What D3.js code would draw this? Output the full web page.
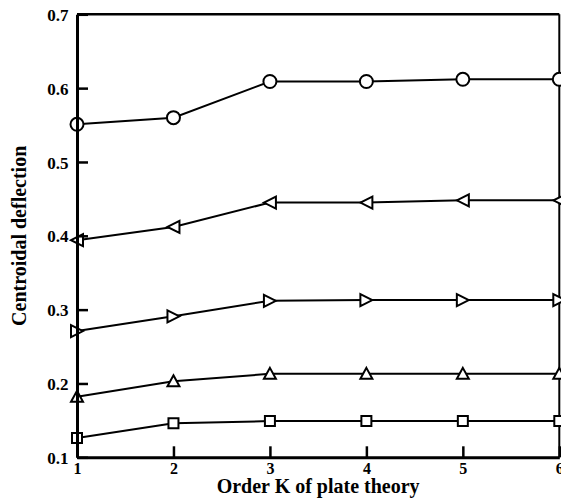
<!DOCTYPE html>
<html>
<head>
<meta charset="utf-8">
<script src="https://cdn.jsdelivr.net/npm/d3@7"></script>
<style>
  body { margin: 0; background: #fff; }
  text { font-family: 'Liberation Serif', 'Times New Roman', serif; font-weight: bold; }
</style>
</head>
<body>
<div id="chart"></div>
<script>
const orders = [1, 2, 3, 4, 5, 6]
const yTicks = [0.1, 0.2, 0.3, 0.4, 0.5, 0.6, 0.7]

const circleVals = [0.551, 0.56, 0.609, 0.609, 0.612, 0.612]
const leftTriVals = [0.394, 0.412, 0.445, 0.445, 0.448, 0.448]
const rightTriVals = [0.271, 0.291, 0.312, 0.313, 0.313, 0.313]
const upTriVals = [0.182, 0.203, 0.213, 0.213, 0.213, 0.213]
const squareVals = [0.126, 0.146, 0.149, 0.149, 0.149, 0.149]

const margin = { top: 14.3, left: 77, right: 1.7, bottom: 40.7 }
const width = 561 - margin.left - margin.right
const height = 498 - margin.top - margin.bottom

const svg = d3
  .select('#chart')
  .append('svg')
  .attr('width', 561)
  .attr('height', 498)
  .append('g')
  .attr('transform', 'translate(' + margin.left + ',' + margin.top + ')')

const xScale = d3.scaleLinear().domain([1, 6]).range([0, width])
const yScale = d3.scaleLinear().domain([0.1, 0.7]).range([height, 0])

// frame on top and right
svg.append('line')
  .attr('x1', 0).attr('x2', width)
  .attr('y1', 0).attr('y2', 0)
  .attr('stroke', '#000').attr('stroke-width', 2.5)
svg.append('line')
  .attr('x1', width).attr('x2', width)
  .attr('y1', 0).attr('y2', height)
  .attr('stroke', '#000').attr('stroke-width', 2)

const series = [
  { name: 'circle', values: circleVals },
  { name: 'left', values: leftTriVals },
  { name: 'right', values: rightTriVals },
  { name: 'up', values: upTriVals },
  { name: 'square', values: squareVals }
]

const line = d3.line()
  .x((d, i) => xScale(orders[i]))
  .y(d => yScale(d))

svg.selectAll('.series-line')
  .data(series)
  .enter()
  .append('path')
  .attr('class', 'series-line')
  .attr('d', d => line(d.values))
  .attr('fill', 'none')
  .attr('stroke', '#000')
  .attr('stroke-width', 2)

// marker shapes, centred on the point
function markerPath(name) {
  if (name === 'left') return 'M-6,0L6,-6L6,6Z'
  if (name === 'right') return 'M6,0L-6,-6L-6,6Z'
  if (name === 'up') return 'M0,-6L6,5L-6,5Z'
  if (name === 'square') return 'M-5,-5L5,-5L5,5L-5,5Z'
  return null
}

series.forEach(function(s) {
  const g = svg.append('g').attr('class', 'markers ' + s.name)
  const pts = g.selectAll('.pt')
    .data(s.values)
    .enter()
    .append('g')
    .attr('transform', (d, i) => `translate(${xScale(orders[i])},${yScale(d)})`)
  if (s.name === 'circle') {
    pts.append('circle')
      .attr('r', 6.5)
      .attr('fill', '#fff')
      .attr('stroke', '#000')
      .attr('stroke-width', 2)
  } else {
    pts.append('path')
      .attr('d', markerPath(s.name))
      .attr('fill', '#fff')
      .attr('stroke', '#000')
      .attr('stroke-width', 2)
  }
})

// axes
const xAxis = d3.axisBottom(xScale)
  .tickValues(orders)
  .tickFormat(d3.format('d'))
  .tickSizeInner(-11)
  .tickSizeOuter(0)
  .tickPadding(5)

const yAxis = d3.axisLeft(yScale)
  .tickValues(yTicks)
  .tickFormat(d3.format('.1f'))
  .tickSizeInner(-11)
  .tickSizeOuter(0)
  .tickPadding(8.5)

const gx = svg.append('g')
  .attr('transform', `translate(0,${height})`)
  .call(xAxis)
const gy = svg.append('g').call(yAxis)

;[gx, gy].forEach(function(g) {
  g.select('.domain').attr('stroke-width', 3)
  g.selectAll('.tick line').attr('stroke-width', 2.5)
  g.selectAll('.tick text')
    .attr('font-size', 17)
    .attr('font-family', "'Liberation Serif', serif")
    .attr('font-weight', 'bold')
    .attr('fill', '#000')
})
gx.selectAll('.tick text').attr('font-size', 16)
gy.selectAll('.tick text').attr('dy', '0.36em')

// axis titles
svg.append('text')
  .text('Order K of plate theory')
  .attr('x', width / 2)
  .attr('y', height + 35.5)
  .attr('text-anchor', 'middle')
  .attr('font-size', 20)

svg.append('text')
  .text('Centroidal deflection')
  .attr('transform', `translate(${26 - margin.left},${height / 2}) rotate(-90)`)
  .attr('text-anchor', 'middle')
  .attr('font-size', 20)
</script>
</body>
</html>
